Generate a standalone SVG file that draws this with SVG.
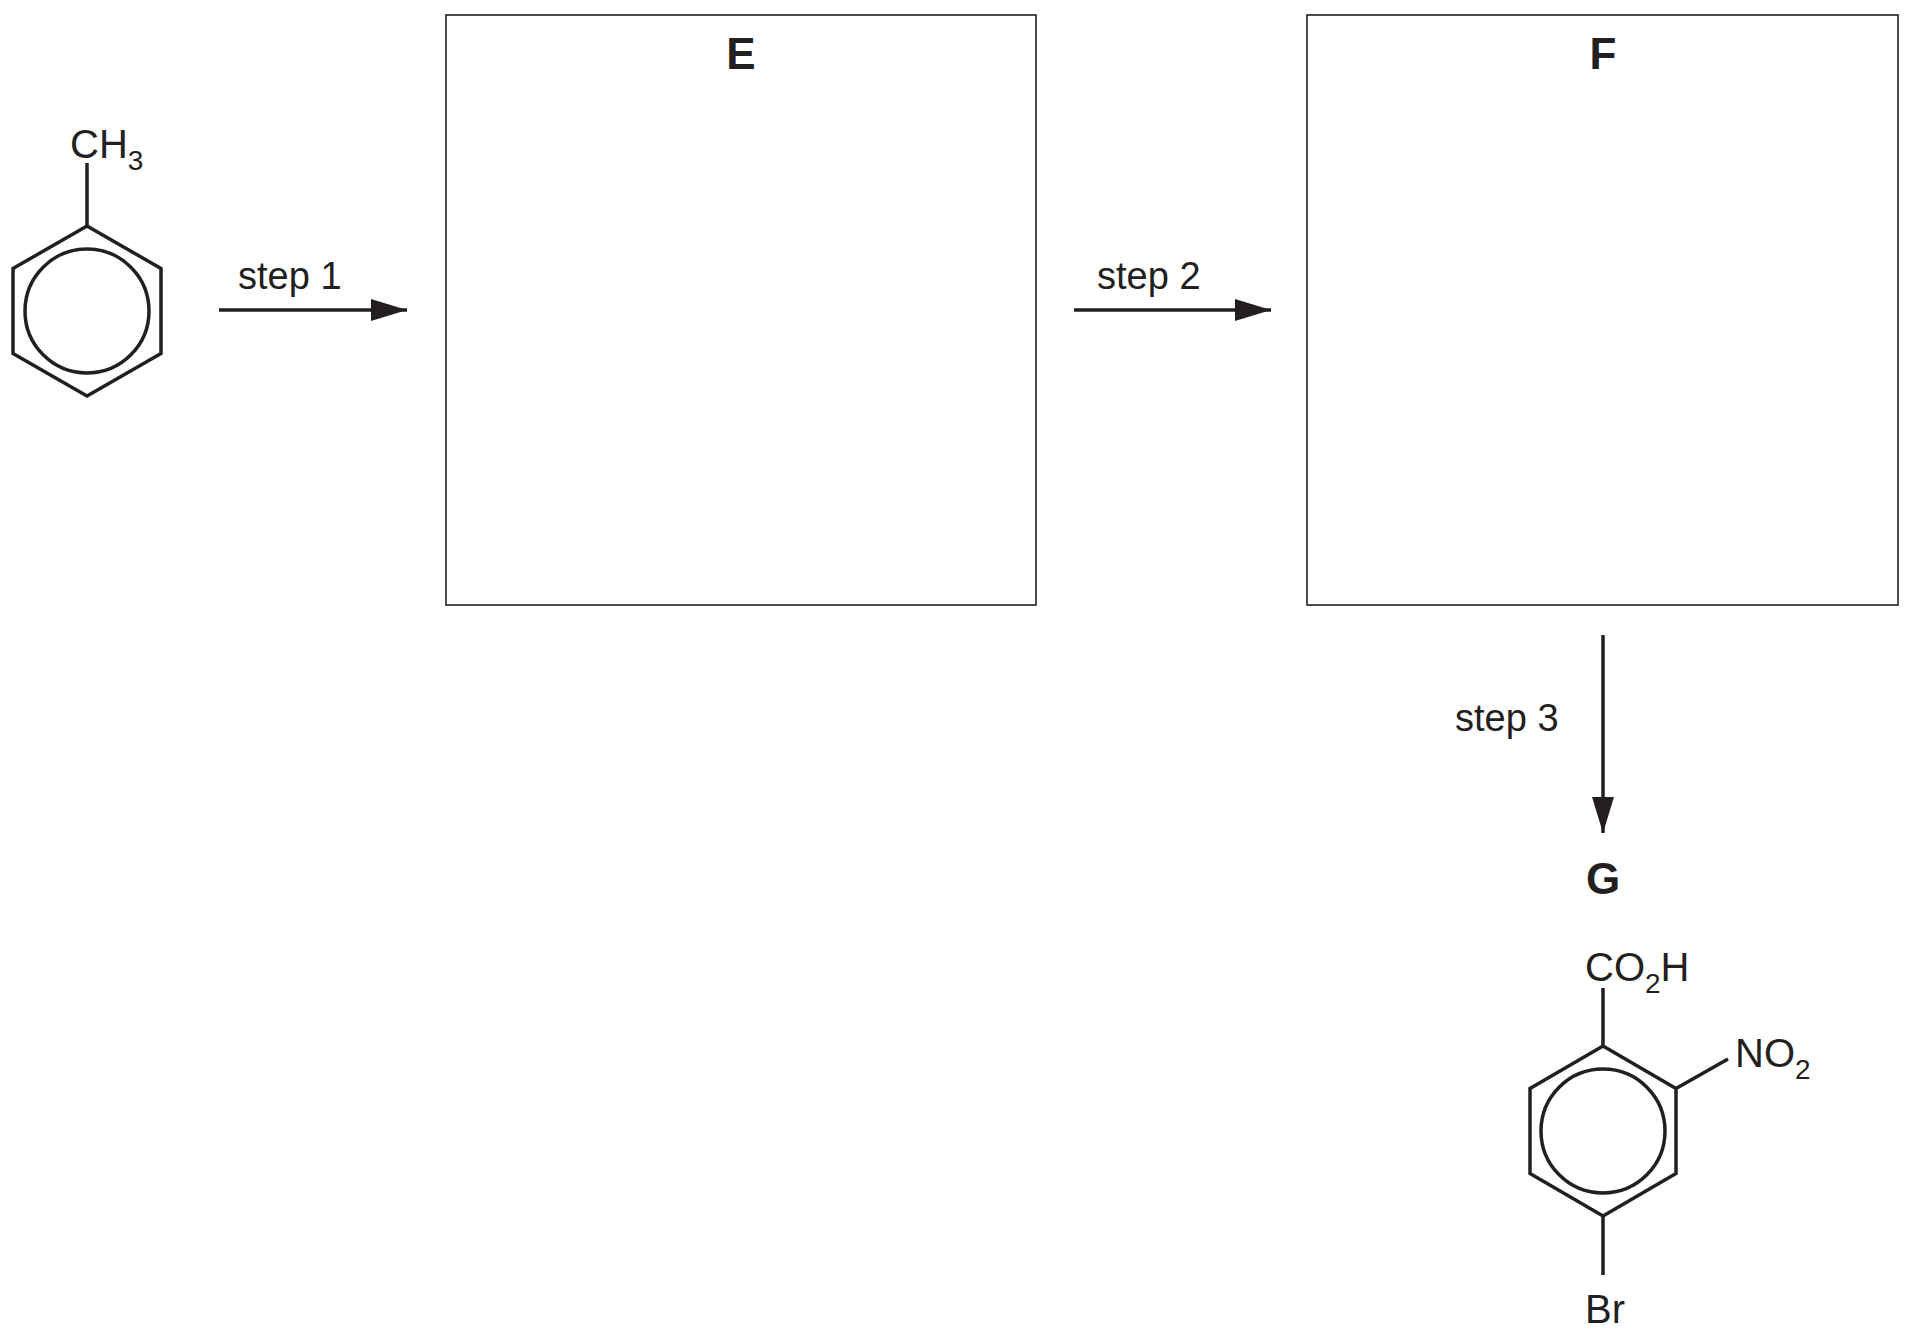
<svg xmlns="http://www.w3.org/2000/svg" width="1911" height="1337" viewBox="0 0 1911 1337">
<defs>
<style>
text{font-family:"Liberation Sans",Arial,sans-serif;fill:#231f20}
.b{stroke:#231f20;stroke-width:3.5;fill:none}
.box{stroke:#231f20;stroke-width:1.6;fill:#fff}
.lbl{font-size:44px;font-weight:bold;text-anchor:middle}
.t{font-size:40px}
.s{font-size:28px}
.st{font-size:38px}
</style>
<marker id="ah" markerWidth="36" markerHeight="22" refX="36" refY="11" orient="auto" markerUnits="userSpaceOnUse"><path d="M0,0 L36,11 L0,22 Z" fill="#231f20"/></marker>
</defs>
<rect width="1911" height="1337" fill="#fff"/>
<g id="toluene">
<polygon class="b" points="87,226 161,268.5 161,353.5 87,396 13,353.5 13,268.5"/>
<circle class="b" cx="87" cy="311" r="62"/>
<line class="b" x1="87" y1="226" x2="87" y2="163"/>
<text x="70" y="158" class="t">CH<tspan class="s" dy="12">3</tspan></text>
</g>
<g id="E"><rect class="box" x="446" y="15" width="590" height="590"/><text x="741" y="69" class="lbl">E</text></g>
<g id="F"><rect class="box" x="1307" y="15" width="591" height="590"/><text x="1603" y="69" class="lbl">F</text></g>
<g id="G">
<text x="1603" y="894" class="lbl">G</text>
<polygon class="b" points="1603,1046 1676,1088.5 1676,1173.5 1603,1216 1530,1173.5 1530,1088.5"/>
<circle class="b" cx="1603" cy="1131" r="62"/>
<line class="b" x1="1603" y1="1046" x2="1603" y2="988"/>
<line class="b" x1="1676" y1="1088.5" x2="1728" y2="1059"/>
<line class="b" x1="1603" y1="1216" x2="1603" y2="1275"/>
<text x="1585" y="981" class="t">CO<tspan class="s" dy="12">2</tspan><tspan dy="-12">H</tspan></text>
<text x="1735" y="1067" class="t">NO<tspan class="s" dy="12">2</tspan></text>
<text x="1585" y="1323" class="t">Br</text>
</g>
<g id="connectors">
<line class="b" x1="219" y1="310" x2="407" y2="310" marker-end="url(#ah)"/>
<text x="238" y="289" class="st">step 1</text>
<line class="b" x1="1074" y1="310" x2="1271" y2="310" marker-end="url(#ah)"/>
<text x="1097" y="289" class="st">step 2</text>
<line class="b" x1="1603" y1="635" x2="1603" y2="833" marker-end="url(#ah)"/>
<text x="1455" y="731" class="st">step 3</text>
</g>
</svg>
